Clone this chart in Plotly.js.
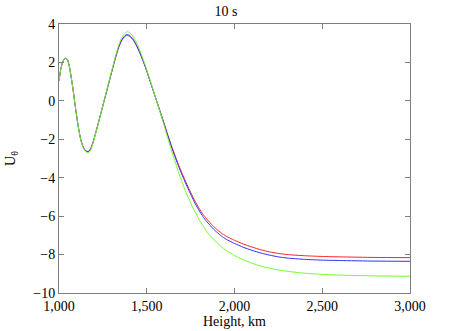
<!DOCTYPE html>
<html>
<head>
<meta charset="utf-8">
<script src="https://cdn.plot.ly/plotly-3.0.1.min.js"></script>
<style>
  html, body { margin: 0; padding: 0; background: #fff; }
</style>
</head>
<body>
<div id="chart" style="width:452px;height:331px;"></div>
<script>
// heights in km
const heightKm = [1000,1010,1020,1030,1040,1050,1060,1070,1080,1090,1100,1110,1120,1130,1140,1150,1160,1170,1180,1190,1200,
  1220,1240,1260,1280,1300,1320,1340,1360,1380,1390,
  1400,1420,1440,1460,1480,1500,1520,1540,1560,1580,1600,1620,1640,1660,1680,1700,1720,1740,1760,1780,1800,1820,1840,1860,1880,1900,
  1925,1950,1975,2000,2050,2100,2150,2200,2250,2300,2400,2500,2600,2800,3000];

const uRed = [1.05,1.65,2.0,2.18,2.22,2.1,1.75,1.2,0.6,-0.1,-0.75,-1.35,-1.85,-2.2,-2.45,-2.58,-2.63,-2.62,-2.5,-2.27,-1.97,
  -1.3,-0.6,0.1,0.8,1.5,2.18,2.78,3.18,3.38,3.40,
  3.37,3.2,2.9,2.5,2.05,1.55,1.0,0.45,-0.1,-0.65,-1.2,-1.78,-2.32,-2.82,-3.3,-3.75,-4.17,-4.57,-4.95,-5.3,-5.62,-5.9,-6.13,-6.34,-6.53,-6.7,
  -6.88,-7.03,-7.15,-7.26,-7.45,-7.61,-7.75,-7.86,-7.94,-8.0,-8.06,-8.1,-8.12,-8.15,-8.16];

const uBlue = [1.05,1.65,2.0,2.18,2.22,2.1,1.75,1.2,0.6,-0.1,-0.75,-1.35,-1.85,-2.2,-2.45,-2.58,-2.64,-2.63,-2.51,-2.27,-1.97,
  -1.3,-0.6,0.1,0.8,1.5,2.19,2.8,3.22,3.43,3.45,
  3.42,3.24,2.93,2.53,2.07,1.56,1.0,0.44,-0.11,-0.67,-1.23,-1.82,-2.37,-2.88,-3.37,-3.83,-4.25,-4.66,-5.05,-5.41,-5.73,-6.02,-6.26,-6.47,-6.67,-6.84,
  -7.03,-7.19,-7.31,-7.42,-7.62,-7.78,-7.92,-8.03,-8.12,-8.18,-8.25,-8.29,-8.31,-8.34,-8.35];

const uGreen = [1.05,1.65,2.0,2.18,2.22,2.1,1.75,1.2,0.6,-0.1,-0.75,-1.36,-1.87,-2.23,-2.49,-2.62,-2.69,-2.7,-2.57,-2.32,-2.0,
  -1.32,-0.6,0.12,0.84,1.56,2.27,2.9,3.33,3.56,3.6,
  3.57,3.38,3.06,2.64,2.15,1.62,1.05,0.47,-0.12,-0.72,-1.32,-1.95,-2.55,-3.12,-3.68,-4.2,-4.68,-5.1,-5.5,-5.86,-6.2,-6.5,-6.77,-7.0,-7.2,-7.38,
  -7.59,-7.77,-7.92,-8.05,-8.27,-8.45,-8.6,-8.71,-8.8,-8.87,-8.97,-9.03,-9.07,-9.11,-9.13];

const xTicks = [1000, 1500, 2000, 2500, 3000];
const yTicks = [-10, -8, -6, -4, -2, 0, 2, 4];

const serif = 'Liberation Serif, Times New Roman, serif';
const axisGray = '#7f7f7f';

function series(y, color) {
  return {
    x: heightKm, y: y, type: 'scatter', mode: 'lines',
    line: { color: color, width: 1, shape: 'spline', smoothing: 0.5 },
    hoverinfo: 'skip'
  };
}

const traces = [
  series(uRed, '#ff2020'),
  series(uBlue, '#3030ff'),
  series(uGreen, '#70ff20')
];

const axisCommon = {
  showgrid: false, zeroline: false,
  showline: true, linecolor: axisGray, linewidth: 1, mirror: 'ticks',
  ticks: 'inside', ticklen: 5, tickcolor: axisGray, tickwidth: 1,
  tickfont: { family: serif, size: 14, color: '#000' }
};

const layout = {
  width: 452, height: 331,
  margin: { l: 59, r: 42, t: 24, b: 38 },
  paper_bgcolor: '#fff', plot_bgcolor: '#fff',
  showlegend: false,
  separators: '.,',
  font: { family: serif, color: '#000' },
  title: { text: '10 s', font: { family: serif, size: 14, color: '#000' }, x: 0.5, xanchor: 'center', y: 0.967, yanchor: 'middle' },
  xaxis: Object.assign({}, axisCommon, {
    range: [1000, 3000], tickvals: xTicks, tickformat: ',d',
    title: { text: 'Height, km', font: { family: serif, size: 14, color: '#000' }, standoff: 0 }
  }),
  yaxis: Object.assign({}, axisCommon, {
    range: [-10, 4], tickvals: yTicks,
    title: { text: 'U<sub>θ</sub>', font: { family: serif, size: 14, color: '#000' }, standoff: 14 }
  })
};

Plotly.newPlot('chart', traces, layout, { staticPlot: true, displayModeBar: false });
</script>
</body>
</html>
